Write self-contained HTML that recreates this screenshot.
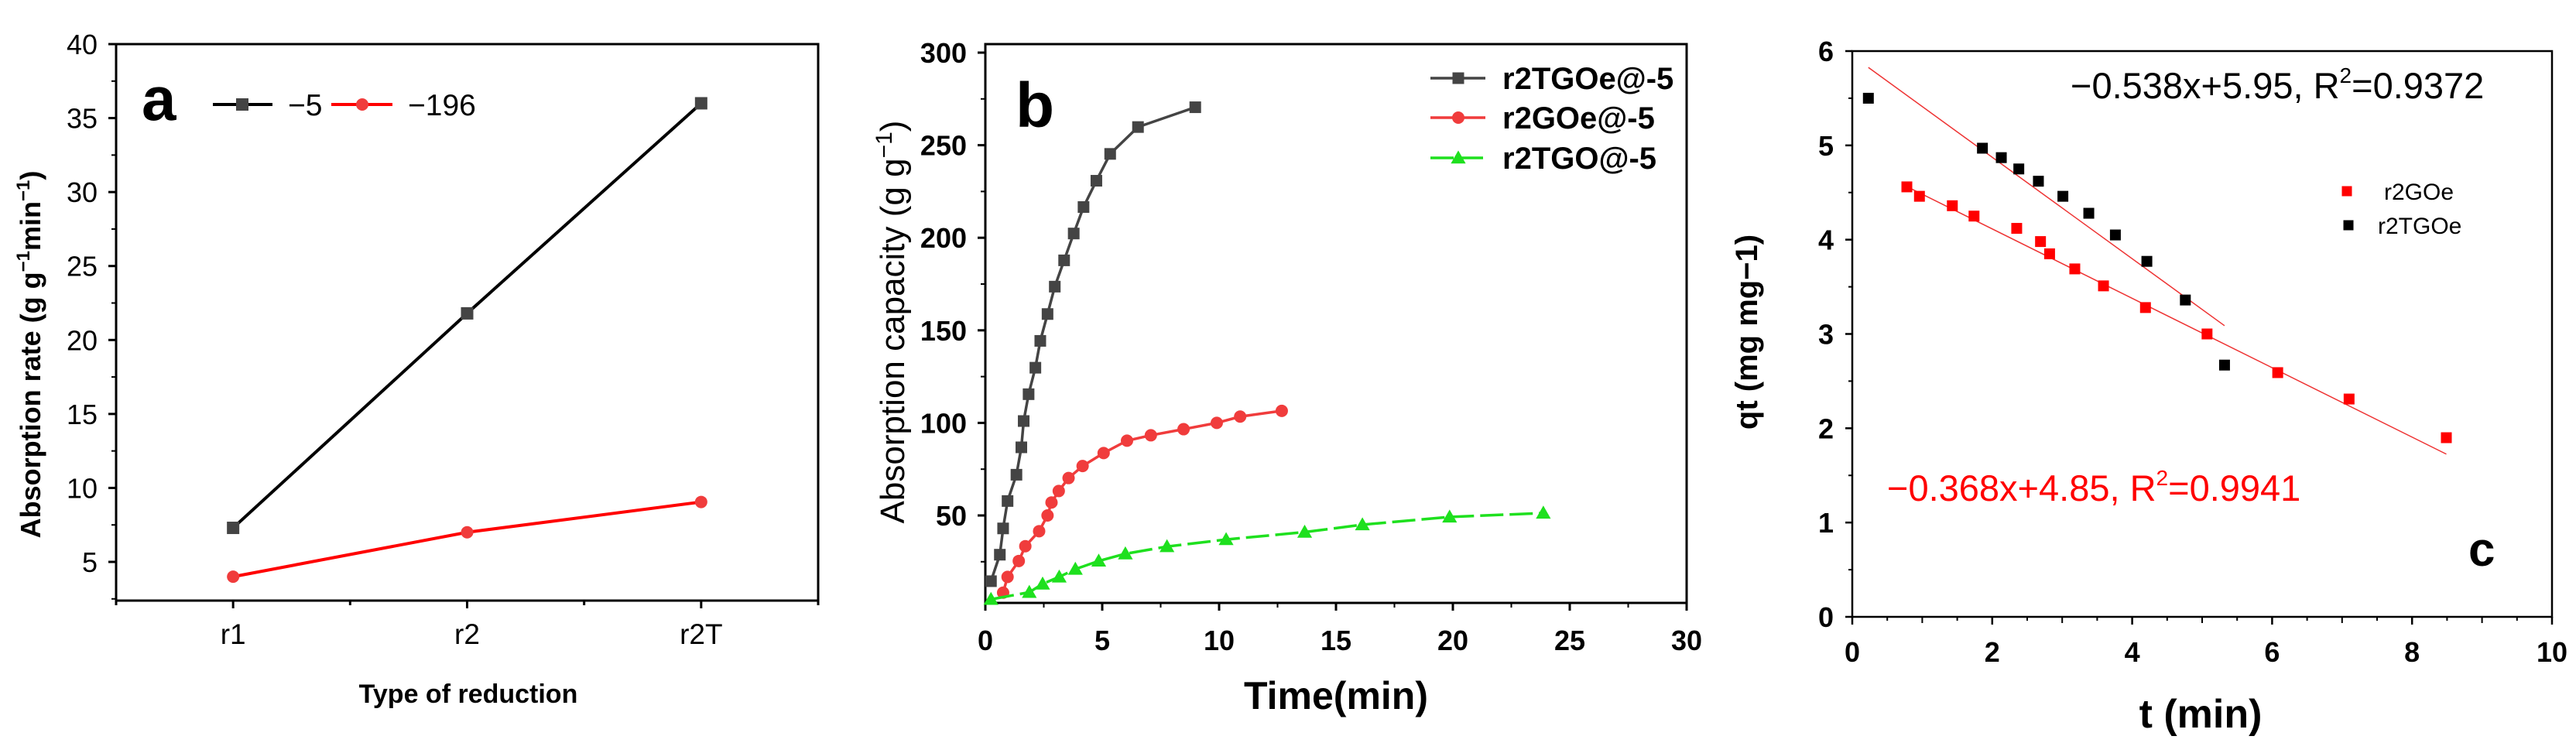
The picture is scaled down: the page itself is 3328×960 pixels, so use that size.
<!DOCTYPE html>
<html><head><meta charset="utf-8"><style>
html,body{margin:0;padding:0;background:#fff}
svg{display:block;font-family:"Liberation Sans",Arial,sans-serif}
</style></head><body>
<svg id="fig" width="3328" height="960" viewBox="0 0 3328 960" xmlns="http://www.w3.org/2000/svg"></svg>
<script>
// ---------- Panel a data ----------
const aCategories = ["r1","r2","r2T"];
const aSeriesM5 = [7.3, 21.8, 36.0];
const aSeries196 = [4.0, 7.0, 9.05];
const aYTicks = [5,10,15,20,25,30,35,40];
// ---------- Panel b data ----------
const bBlackT = [0.24,0.62,0.76,0.95,1.33,1.54,1.64,1.85,2.14,2.35,2.66,2.97,3.37,3.78,4.2,4.75,5.34,6.53,8.98];
const bBlackV = [14.5,28.8,43,57.8,72,86.8,101,115.5,129.8,144.3,158.8,173.6,187.8,202.3,216.6,230.8,245.3,259.8,270.5];
const bRedT = [0.76,0.95,1.43,1.71,2.3,2.66,2.83,3.14,3.56,4.16,5.06,6.06,7.08,8.48,9.9,10.9,12.68];
const bRedV = [8.3,16.8,25.4,33.4,41.5,50,57,63.2,70.2,76.7,83.7,90.4,93.3,96.6,100,103.4,106.5];
const bGreenT = [0.24,1.88,2.45,3.16,3.85,4.85,5.99,7.77,10.3,13.66,16.13,19.86,23.87];
const bGreenV = [4.7,8.5,13,16.8,21,25.4,29.3,33.2,37,41,45,49.2,51.3];
const bXTicks = [0,5,10,15,20,25,30];
const bYTicks = [50,100,150,200,250,300];
// ---------- Panel c data ----------
const cBlackT = [0.23,1.86,2.13,2.38,2.66,3.01,3.38,3.76,4.21,4.76,5.32];
const cBlackQ = [5.50,4.97,4.87,4.75,4.62,4.46,4.28,4.05,3.77,3.36,2.67];
const cRedT = [0.78,0.96,1.43,1.74,2.35,2.69,2.82,3.18,3.59,4.19,5.07,6.08,7.10,8.49];
const cRedQ = [4.56,4.46,4.36,4.25,4.12,3.98,3.85,3.69,3.51,3.28,3.0,2.59,2.31,1.90];
const cBlackFit = [-0.538, 5.95];
const cRedFit = [-0.368, 4.85];
const cXTicks = [0,2,4,6,8,10];
const cYTicks = [0,1,2,3,4,5,6];

const NS="http://www.w3.org/2000/svg";
const svg=document.getElementById('fig');
function mk(tag,attrs,parent,text){const e=document.createElementNS(NS,tag);for(const k in attrs)e.setAttribute(k,attrs[k]);if(text!==undefined)e.textContent=text;(parent||svg).appendChild(e);return e;}
function lin(d0,d1,r0,r1){return v=>r0+(v-d0)/(d1-d0)*(r1-r0);}
function sq(g,x,y,s,fill){return mk('rect',{x:x-s/2,y:y-s/2,width:s,height:s,fill:fill},g);}
function tri(g,x,y,s,fill){return mk('polygon',{points:`${x},${y-s*0.6} ${x-s*0.6},${y+s*0.45} ${x+s*0.6},${y+s*0.45}`,fill:fill},g);}

// ================= PANEL A =================
(function(){
const g=mk('g',{});


const L=150,R=1057,T=57,B=776;
const x=lin(0.5,3.5,L,R), y=lin(5,40,726,57);
const box=mk('rect',{x:L,y:T,width:R-L,height:B-T,fill:'none',stroke:'#000','stroke-width':3},g);


aYTicks.forEach(v=>{
  const yy=y(v);
  mk('line',{x1:L-10,x2:L,y1:yy,y2:yy,stroke:'#000','stroke-width':3},g);
  const t=mk('text',{x:L-24,y:yy+13,'text-anchor':'end','font-size':36},g,String(v));
  
  
  const m=y(v-2.5); if(m<B) mk('line',{x1:L-6,x2:L,y1:m,y2:m,stroke:'#000','stroke-width':2},g);
});
[0.5,1,1.5,2,2.5,3,3.5].forEach((v,i)=>{
  const xx=x(v); mk('line',{x1:xx,x2:xx,y1:B,y2:B+(i%2?10:6),stroke:'#000','stroke-width':3},g);
});
aCategories.forEach((c,i)=>{
  const t=mk('text',{x:x(i+1),y:832,'text-anchor':'middle','font-size':37},g,c);
  
  
});
const xt=mk('text',{x:605,y:908,'text-anchor':'middle','font-size':34,'font-weight':'bold'},g,'Type of reduction');


const yt=mk('text',{x:0,y:0,'text-anchor':'middle','font-size':36,'font-weight':'bold',transform:'translate(52,458) rotate(-90)'},g);


yt.innerHTML='Absorption rate (g g<tspan dy="-14" font-size="24">−1</tspan><tspan dy="14">min</tspan><tspan dy="-14" font-size="24">−1</tspan><tspan dy="14">)</tspan>';
function series(vals,color,marker,name){
  const pts=vals.map((v,i)=>[x(i+1),y(v)]);
  const p=mk('polyline',{points:pts.map(p=>p.join(',')).join(' '),fill:'none',stroke:color,'stroke-width':4},g);
  
  
  pts.forEach(pt=>{const m=marker==='sq'?sq(g,pt[0],pt[1],16,'#444'):mk('circle',{cx:pt[0],cy:pt[1],r:8,fill:'#f03c3c'},g);
    
    });
}
series(aSeriesM5,'#000','sq','series-minus5');
series(aSeries196,'#f00','ci','series-minus196');
const lab=mk('text',{x:183,y:155,'font-size':80,'font-weight':'bold'},g,'a');


const lg=mk('g',{},g);


mk('line',{x1:275,x2:352,y1:135,y2:135,stroke:'#000','stroke-width':4},lg); sq(lg,313,135,16,'#444');
mk('text',{x:372,y:149,'font-size':39},lg,'−5');
mk('line',{x1:428,x2:507,y1:135,y2:135,stroke:'#f00','stroke-width':4},lg); mk('circle',{cx:468,cy:135,r:8,fill:'#f03c3c'},lg);
mk('text',{x:527,y:149,'font-size':39},lg,'−196');
})();

// ================= PANEL B =================
(function(){
const g=mk('g',{});


const L=1273,R=2179,T=57,B=779;
const x=lin(0,30,L,R), y=lin(50,300,666,68);
const box=mk('rect',{x:L,y:T,width:R-L,height:B-T,fill:'none',stroke:'#000','stroke-width':3},g);


bYTicks.forEach(v=>{
  const yy=y(v); mk('line',{x1:L-10,x2:L,y1:yy,y2:yy,stroke:'#000','stroke-width':3},g);
  const m=y(v-25); if(m<B) mk('line',{x1:L-6,x2:L,y1:m,y2:m,stroke:'#000','stroke-width':2},g);
  const t=mk('text',{x:L-24,y:yy+13,'text-anchor':'end','font-size':36,'font-weight':'bold'},g,String(v));
  
  
});
bXTicks.forEach(v=>{
  const xx=x(v); mk('line',{x1:xx,x2:xx,y1:B,y2:B+10,stroke:'#000','stroke-width':3},g);
  if(v<30){const m=x(v+2.5); mk('line',{x1:m,x2:m,y1:B,y2:B+6,stroke:'#000','stroke-width':2},g);}
  const t=mk('text',{x:xx,y:840,'text-anchor':'middle','font-size':36,'font-weight':'bold'},g,String(v));
  
  
});
const xt=mk('text',{x:1726,y:916,'text-anchor':'middle','font-size':50,'font-weight':'bold'},g,'Time(min)');


const yt=mk('text',{x:0,y:0,'text-anchor':'middle','font-size':44,transform:'translate(1168,416) rotate(-90)'},g);


yt.innerHTML='Absorption capacity (g g<tspan dy="-16" font-size="30">−1</tspan><tspan dy="16">)</tspan>';
function series(T_,V,color,mfill,marker,dash,name){
  const pts=T_.map((t,i)=>[x(t),y(V[i])]);
  const p=mk('polyline',{points:pts.map(p=>p.join(',')).join(' '),fill:'none',stroke:color,'stroke-width':3.5},g);
  if(dash)p.setAttribute('stroke-dasharray',dash);
  
  
  pts.forEach(pt=>{let m;
    if(marker==='sq')m=sq(g,pt[0],pt[1],15,mfill);
    else if(marker==='ci')m=mk('circle',{cx:pt[0],cy:pt[1],r:8,fill:mfill},g);
    else m=tri(g,pt[0],pt[1],16,mfill);
    
    });
}
series(bBlackT,bBlackV,'#444','#444','sq',null,'r2TGOe-5');
series(bRedT,bRedV,'#f03c3c','#f03c3c','ci',null,'r2GOe-5');
series(bGreenT,bGreenV,'#1ee01e','#1ee01e','tr','30 8','r2TGO-5');
const lab=mk('text',{x:1312,y:164,'font-size':82,'font-weight':'bold'},g,'b');


const lg=mk('g',{},g);


mk('line',{x1:1848,x2:1919,y1:101,y2:101,stroke:'#444','stroke-width':3.5},lg); sq(lg,1884,101,15,'#444');
mk('text',{x:1941,y:115,'font-size':40,'font-weight':'bold'},lg,'r2TGOe@-5');
mk('line',{x1:1848,x2:1919,y1:152,y2:152,stroke:'#f03c3c','stroke-width':3.5},lg); mk('circle',{cx:1884,cy:152,r:8,fill:'#f03c3c'},lg);
mk('text',{x:1941,y:166,'font-size':40,'font-weight':'bold'},lg,'r2GOe@-5');
mk('line',{x1:1848,x2:1919,y1:204,y2:204,stroke:'#1ee01e','stroke-width':3.5,'stroke-dasharray':'30 8'},lg); tri(lg,1884,204,16,'#1ee01e');
mk('text',{x:1941,y:218,'font-size':40,'font-weight':'bold'},lg,'r2TGO@-5');
})();

// ================= PANEL C =================
(function(){
const g=mk('g',{});


const L=2393,R=3297,T=66,B=797;
const x=lin(0,10,L,R), y=lin(0,6,B,T);
const box=mk('rect',{x:L,y:T,width:R-L,height:B-T,fill:'none',stroke:'#000','stroke-width':2.5},g);


cYTicks.forEach(v=>{
  const yy=y(v); mk('line',{x1:L-9,x2:L,y1:yy,y2:yy,stroke:'#000','stroke-width':2.5},g);
  if(v<6){const m=y(v+0.5); mk('line',{x1:L-5,x2:L,y1:m,y2:m,stroke:'#000','stroke-width':2},g);}
  const t=mk('text',{x:L-24,y:yy+13,'text-anchor':'end','font-size':36,'font-weight':'bold'},g,String(v));
  
  
});
cXTicks.forEach(v=>{
  const xx=x(v); mk('line',{x1:xx,x2:xx,y1:B,y2:B+10,stroke:'#000','stroke-width':2.5},g);
  if(v<10){[0.5,1,1.5].forEach(d=>{const m=x(v+d); mk('line',{x1:m,x2:m,y1:B,y2:B+(d===1?8:5),stroke:'#000','stroke-width':2},g);});}
  const t=mk('text',{x:xx,y:855,'text-anchor':'middle','font-size':36,'font-weight':'bold'},g,String(v));
  
  
});
const xt=mk('text',{x:2843,y:940,'text-anchor':'middle','font-size':52,'font-weight':'bold'},g,'t (min)');


const yt=mk('text',{x:0,y:0,'text-anchor':'middle','font-size':40,'font-weight':'bold',transform:'translate(2270,429) rotate(-90)'},g,'qt (mg mg−1)');


function fit(f,t0,t1,name){
  const l=mk('line',{x1:x(t0),y1:y(f[0]*t0+f[1]),x2:x(t1),y2:y(f[0]*t1+f[1]),stroke:'#e33','stroke-width':1.5},g);
  
  
}
fit(cBlackFit,cBlackT[0],cBlackT[cBlackT.length-1],'fit-line-r2TGOe');
fit(cRedFit,cRedT[0],cRedT[cRedT.length-1],'fit-line-r2GOe');
cRedT.forEach((t,i)=>{const m=sq(g,x(t),y(cRedQ[i]),14,'#f00');
  
  });
cBlackT.forEach((t,i)=>{const m=sq(g,x(t),y(cBlackQ[i]),14,'#000');
  
  });
const e1=mk('text',{x:2675,y:127,'font-size':47},g);


e1.innerHTML='−0.538x+5.95, R<tspan dy="-20" font-size="28">2</tspan><tspan dy="20">=0.9372</tspan>';
const e2=mk('text',{x:2438,y:647,'font-size':47,fill:'#f00'},g);


e2.innerHTML='−0.368x+4.85, R<tspan dy="-20" font-size="28">2</tspan><tspan dy="20">=0.9941</tspan>';
const lg=mk('g',{},g);


sq(lg,3032,247,13,'#f00'); mk('text',{x:3080,y:258,'font-size':30},lg,'r2GOe');
sq(lg,3034,291,13,'#000'); mk('text',{x:3072,y:302,'font-size':30},lg,'r2TGOe');
const lab=mk('text',{x:3189,y:731,'font-size':62,'font-weight':'bold'},g,'c');


})();
</script>
</body></html>
